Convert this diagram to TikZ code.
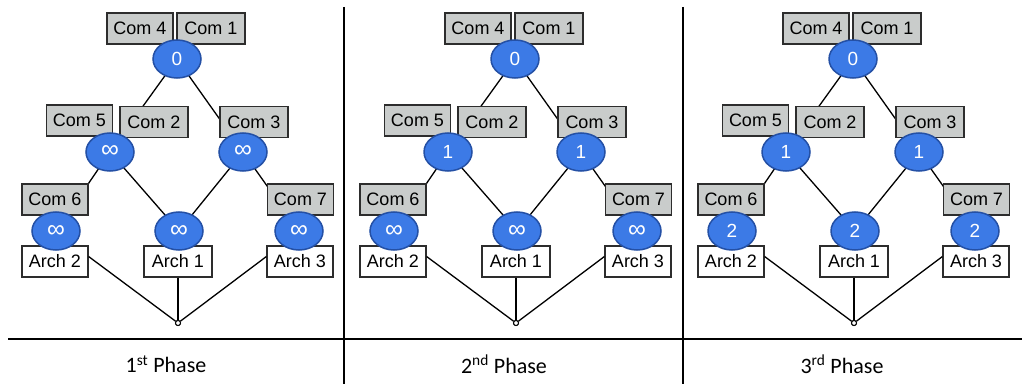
\documentclass[tikz,border=0pt]{standalone}
\usepackage{fontspec}
\setmainfont{Liberation Sans}
\newfontfamily\phasefont{Carlito}
\usetikzlibrary{shapes.geometric}
\definecolor{boxgray}{RGB}{201,204,203}
\definecolor{boxline}{RGB}{45,45,45}
\definecolor{nodeblue}{RGB}{60,122,230}
\definecolor{nodeline}{RGB}{36,80,165}
\newcommand{\infsym}{{\fontsize{25}{25}\selectfont ∞}}
\tikzset{
  com/.style={draw=boxline, fill=boxgray, line width=1.2pt, minimum width=66pt, minimum height=31pt, inner sep=0pt, font=\fontsize{18}{20}\selectfont},
  arch/.style={draw=boxline, fill=white, line width=1.2pt, minimum width=66pt, minimum height=31pt, inner sep=0pt, font=\fontsize{18}{20}\selectfont},
  dist/.style={ellipse, draw=nodeline, fill=nodeblue, line width=1.5pt, minimum width=48pt, minimum height=38pt, inner sep=0pt, text=white, font=\fontsize{19}{20}\selectfont},
  edge/.style={draw=black, line width=1.3pt},
  junction/.style={circle, draw=black, fill=white, line width=1pt, minimum size=5pt, inner sep=0pt},
  phase/.style={font=\phasefont\fontsize{22}{24}\selectfont},
  rule/.style={draw=black, line width=1.3pt}
}
\begin{document}
\begin{tikzpicture}[x=1pt,y=-1pt]
\useasboundingbox (0,0) rectangle (1022,385);
% frame lines
\coordinate (hl) at (8,339);
\coordinate (hr) at (1022,339);
\coordinate (v1t) at (344,7);
\coordinate (v1b) at (344,384);
\coordinate (v2t) at (683,7);
\coordinate (v2b) at (683,384);
\draw[rule] (hl) -- (hr);
\draw[rule] (v1t) -- (v1b);
\draw[rule] (v2t) -- (v2b);
\foreach \p/\dx/\va/\vb/\ph/\su in {1/0/\infsym/\infsym/1/st, 2/338/1/\infsym/2/nd, 3/676/1/2/3/rd}{
  \begin{scope}[xshift=\dx]
    % coordinates of the distance nodes
    \coordinate (t\p) at (177,59);
    \coordinate (l\p) at (110,152);
    \coordinate (r\p) at (243,152);
    \coordinate (bl\p) at (56,231);
    \coordinate (bm\p) at (179,231);
    \coordinate (br\p) at (299,231);
    \node[junction] (j\p) at (178,323) {};
    % tree edges
    \draw[edge] (t\p) -- (l\p);
    \draw[edge] (t\p) -- (r\p);
    \draw[edge] (l\p) -- (bl\p);
    \draw[edge] (l\p) -- (bm\p);
    \draw[edge] (r\p) -- (bm\p);
    \draw[edge] (r\p) -- (br\p);
    % boxes
    \node[com] (cfour\p) at (140,28.5) {Com 4};
    \node[com, minimum width=68pt] (cone\p) at (211,28.5) {Com 1};
    \node[com] (cfive\p) at (79.5,120.5) {Com 5};
    \node[com, minimum width=68pt] (ctwo\p) at (154,122) {Com 2};
    \node[com, minimum width=68pt] (cthree\p) at (254,122) {Com 3};
    \node[com] (csix\p) at (55,199.5) {Com 6};
    \node[com] (cseven\p) at (300.5,199.5) {Com 7};
    \node[arch] (atwo\p) at (55,261.5) {Arch 2};
    \node[arch, minimum width=68pt] (aone\p) at (178,261.5) {Arch 1};
    \node[arch] (athree\p) at (300,261.5) {Arch 3};
    % distance ellipses
    \node[dist] (nt\p) at (t\p) {0};
    \node[dist] (nl\p) at (l\p) {\va};
    \node[dist] (nr\p) at (r\p) {\va};
    \node[dist] (nbl\p) at (bl\p) {\vb};
    \node[dist] (nbm\p) at (bm\p) {\vb};
    \node[dist] (nbr\p) at (br\p) {\vb};
    % archive links
    \draw[edge] ([yshift=5pt]atwo\p.east) -- (j\p);
    \draw[edge] (aone\p.south) -- (j\p);
    \draw[edge] ([yshift=5pt]athree\p.west) -- (j\p);
    \node[junction] at (j\p) {};
    % phase label
    \node[phase] (ph\p) at (166,364) {\ph\textsuperscript{\su} Phase};
  \end{scope}
}
\end{tikzpicture}
\end{document}
